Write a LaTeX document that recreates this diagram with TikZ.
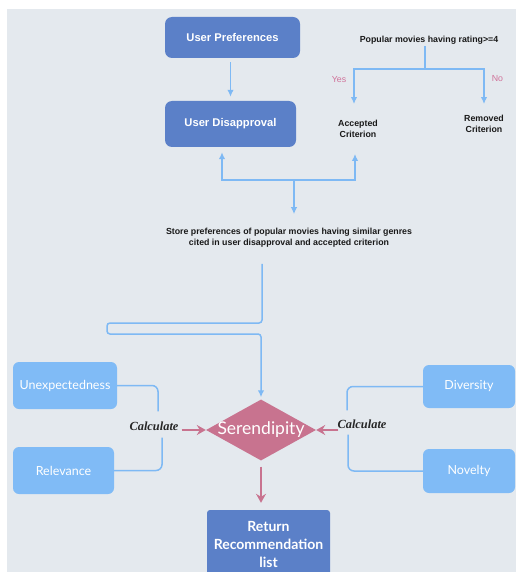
\documentclass[tikz,border=0pt]{standalone}
\usepackage{fontspec}
\setmainfont{Liberation Sans}
\newfontfamily\latofont{Lato}
\newfontfamily\calcfont{Liberation Serif}
\usepackage{xcolor}
\usepackage{tikz}
\usetikzlibrary{shapes.geometric, arrows.meta, positioning, calc}

\definecolor{pagebg}{HTML}{E4E9EE}
\definecolor{darkbox}{HTML}{5B80C8}
\definecolor{lightbox}{HTML}{80BBF6}
\definecolor{linkblue}{HTML}{7EB9F4}
\definecolor{serpink}{HTML}{C8738F}
\definecolor{labpink}{HTML}{D0739A}

\begin{document}
\begin{tikzpicture}[
    x=1pt, y=-1pt,
    darkblock/.style={rectangle, fill=darkbox, text=white, rounded corners=7pt, align=center, font=\fontsize{11.2}{13}\selectfont\bfseries},
    lightblock/.style={rectangle, fill=lightbox, text=white, rounded corners=6pt, font=\latofont\fontsize{12.5}{15}\selectfont},
    note/.style={align=center, inner sep=2pt, text=black!90, font=\fontsize{8.8}{11}\selectfont\bfseries},
    answer/.style={text=labpink, inner sep=1pt, font=\fontsize{8.8}{11}\selectfont},
    calcnote/.style={text=black!85, inner sep=3pt, font=\calcfont\fontsize{12.4}{14}\selectfont\bfseries\itshape},
    decision/.style={diamond, fill=serpink, text=white, inner sep=-2pt, aspect=1.8, minimum width=110pt, minimum height=61pt, font=\latofont\fontsize{17.5}{20}\selectfont},
    line/.style={draw=linkblue, line width=1.5pt, -{Latex[length=7pt, width=6.5pt]}},
    link/.style={draw=linkblue, line width=1.5pt},
    pinkline/.style={draw=serpink, line width=1.8pt, -{Stealth[length=9pt, width=10pt, inset=3pt]}}
]
    \clip (0,0) rectangle (516,572);
    \fill[pagebg] (7,9) rectangle (516,572);

    % Nodes
    \node [darkblock, minimum width=135pt, minimum height=41pt] (prefs) at (232.5,37.5) {User Preferences};
    \node [darkblock, minimum width=131pt, minimum height=46pt] (disapp) at (230.5,124) {User Disapproval};
    \node [note] (popular) at (429,40) {Popular movies having rating>=4};
    \node [note] (accepted) at (358,129) {Accepted\\Criterion};
    \node [note] (removed) at (484,124) {Removed\\Criterion};
    \node [note] (store) at (289,238) {Store preferences of popular movies having similar genres\\cited in user disapproval and accepted criterion};
    \node [decision] (seren) at (261,430) {Serendipity};
    \node [lightblock, minimum width=104pt, minimum height=47pt] (unexp) at (65,385.5) {Unexpectedness};
    \node [lightblock, minimum width=101pt, minimum height=47pt] (relev) at (63.5,470.5) {Relevance};
    \node [lightblock, minimum width=92pt, minimum height=43pt] (divers) at (469,386.5) {Diversity};
    \node [lightblock, minimum width=92pt, minimum height=44pt] (novel) at (469,471) {Novelty};
    \node [calcnote] (calcleft) at (154,426) {Calculate};
    \node [calcnote] (calcright) at (362,424) {Calculate};
    \node [darkblock, rounded corners=3pt, minimum width=123pt, minimum height=68pt, font=\latofont\fontsize{14}{18}\selectfont\bfseries] (result) at (268.5,544) {Return\\Recommendation\\list};

    \coordinate (split) at (425,69);
    \coordinate (junction) at (294,180);

    % Paths
    \path [link] (popular.south -| split) -- (split);
    \path [line, shorten >=14pt] (split) -| node[answer, pos=0.61, left=6pt] {Yes} ([xshift=-4pt]accepted.north);
    \path [line, shorten >=9pt] (split) -| node[answer, pos=0.61, right=6pt] {No} (removed.north);
    \path [line, shorten <=4pt, shorten >=4pt] (prefs.south -| disapp.north) -- (disapp.north);
    \path [line, shorten >=5pt] (junction) -| ([xshift=-8.5pt]disapp.south);
    \path [line, shorten >=14pt] (junction) -| ([xshift=-3pt]accepted.south);
    \path [line, shorten >=12pt] (junction) -- (junction |- store.north);
    \path [line, rounded corners=3pt, shorten <=14pt, shorten >=2pt] ([xshift=-27pt]store.south) |- (107,323) |- (seren.north |- 0,334) -- (seren.north);

    \path [link, rounded corners=6pt, shorten >=7pt] (unexp.east) -| ([xshift=4pt]calcleft.north);
    \path [link, rounded corners=6pt, shorten >=4pt] (relev.east) -| ([xshift=8pt]calcleft.south);
    \path [link, rounded corners=6pt, shorten >=6pt] (divers.west) -| ([xshift=-15pt]calcright.north);
    \path [link, rounded corners=6pt, shorten >=3pt] (novel.west) -| ([xshift=-14pt]calcright.south);

    \path [pinkline] (calcleft.east |- seren.west) -- (seren.west);
    \path [pinkline, shorten <=-4pt] (calcright.west |- seren.east) -- (seren.east);
    \path [pinkline, shorten <=6pt, shorten >=7pt] (seren.south) -- (seren.south |- result.north);
\end{tikzpicture}
\end{document}
